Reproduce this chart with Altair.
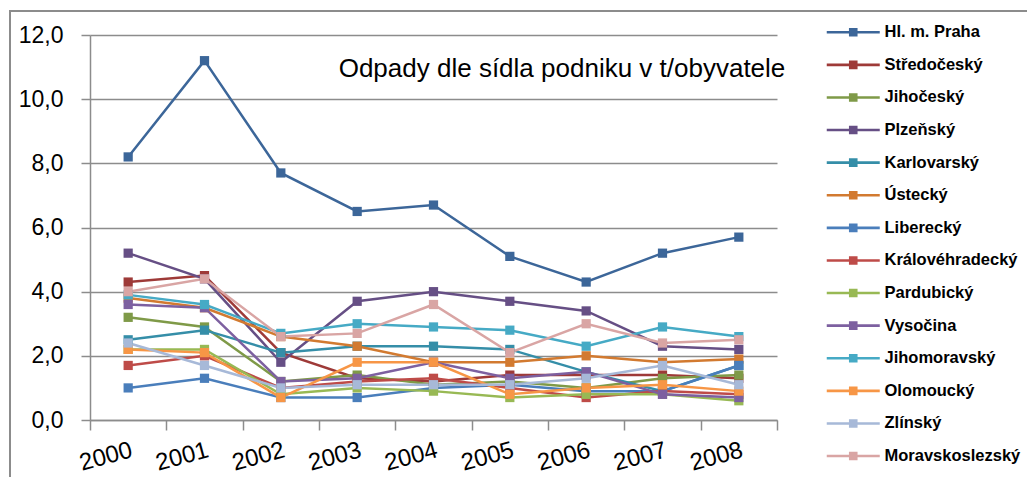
import altair as alt
import pandas as pd

years = ["2000", "2001", "2002", "2003", "2004", "2005", "2006", "2007", "2008"]

regions = ["Hl. m. Praha", "Středočeský", "Jihočeský", "Plzeňský", "Karlovarský",
           "Ústecký", "Liberecký", "Královéhradecký", "Pardubický", "Vysočina",
           "Jihomoravský", "Olomoucký", "Zlínský", "Moravskoslezský"]

praha = [8.2, 11.2, 7.7, 6.5, 6.7, 5.1, 4.3, 5.2, 5.7]
stredocesky = [4.3, 4.5, 2.1, 1.3, 1.2, 1.4, 1.4, 1.4, 1.3]
jihocesky = [3.2, 2.9, 1.2, 1.4, 1.1, 1.2, 1.0, 1.3, 1.4]
plzensky = [5.2, 4.4, 1.8, 3.7, 4.0, 3.7, 3.4, 2.3, 2.2]
karlovarsky = [2.5, 2.8, 2.1, 2.3, 2.3, 2.2, 1.5, 0.9, 1.7]
ustecky = [3.8, 3.5, 2.6, 2.3, 1.8, 1.8, 2.0, 1.8, 1.9]
liberecky = [1.0, 1.3, 0.7, 0.7, 1.0, 1.1, 0.9, 0.9, 1.7]
kralovehradecky = [1.7, 2.0, 1.0, 1.2, 1.3, 1.0, 0.7, 0.9, 0.8]
pardubicky = [2.2, 2.2, 0.8, 1.0, 0.9, 0.7, 0.8, 0.8, 0.6]
vysocina = [3.6, 3.5, 1.2, 1.3, 1.8, 1.3, 1.5, 0.8, 0.7]
jihomoravsky = [3.9, 3.6, 2.7, 3.0, 2.9, 2.8, 2.3, 2.9, 2.6]
olomoucky = [2.2, 2.1, 0.7, 1.8, 1.8, 0.8, 1.0, 1.1, 0.9]
zlinsky = [2.4, 1.7, 1.0, 1.1, 1.1, 1.1, 1.3, 1.7, 1.1]
moravskoslezsky = [4.0, 4.4, 2.6, 2.7, 3.6, 2.1, 3.0, 2.4, 2.5]

series = [praha, stredocesky, jihocesky, plzensky, karlovarsky, ustecky, liberecky,
          kralovehradecky, pardubicky, vysocina, jihomoravsky, olomoucky, zlinsky,
          moravskoslezsky]

colors = ["#3C6699", "#9E3A38", "#7F9A48", "#664F85", "#358EA8", "#D27A30", "#4A7EBB",
          "#BE4B48", "#98B954", "#7D60A0", "#46AAC5", "#F79646", "#A7B9D8", "#D9A5A4"]

chart_title = "Odpady dle sídla podniku v t/obyvatele"

rows = []
for name, vals in zip(regions, series):
    for y, v in zip(years, vals):
        rows.append({"rok": y, "kraj": name, "hodnota": v})
df = pd.DataFrame(rows)

FONT = "Liberation Sans"
GREY = "#8c8c8c"

x_enc = alt.X("rok:O", scale=alt.Scale(type="band", paddingInner=0, paddingOuter=0),
              axis=alt.Axis(title=None, labelAngle=345, labelAlign="right", labelBaseline="top",
                            labelPadding=8, labelFontSize=24, labelFont=FONT, labelColor="black",
                            tickBand="extent", tickSize=10, tickColor=GREY, tickWidth=1.5,
                            domainColor=GREY, domainWidth=1.5, grid=False))
y_enc = alt.Y("hodnota:Q", scale=alt.Scale(domain=[0, 12], nice=False),
              axis=alt.Axis(title=None, values=[0, 2, 4, 6, 8, 10, 12],
                            labelExpr="replace(format(datum.value, '.1f'), '.', ',')",
                            labelFontSize=23, labelFont=FONT, labelColor="black", labelPadding=18,
                            tickSize=9, tickColor=GREY, tickWidth=1.5, domainColor=GREY,
                            domainWidth=1.5, gridColor=GREY, gridWidth=1.5))

color_scale = alt.Scale(domain=regions, range=colors)

legend = alt.Legend(title=None, orient="none", legendX=755, legendY=-11,
                    symbolType="M-5.3,-0.26H5.3V0.26H-5.3Z M-0.86,-0.86H0.86V0.86H-0.86Z",
                    symbolSize=100, symbolStrokeWidth=0, symbolOpacity=1,
                    labelFontSize=16.5, labelFontWeight="bold", labelFont=FONT, labelColor="black",
                    labelOffset=23, rowPadding=15.6, padding=0, labelLimit=400)

base = alt.Chart(df)
lines = base.mark_line(strokeWidth=2.5).encode(
    x=x_enc, y=y_enc,
    color=alt.Color("kraj:N", scale=color_scale, sort=regions, legend=None),
)
points = base.mark_square(size=85, opacity=1, filled=True).encode(
    x=x_enc, y=y_enc,
    color=alt.Color("kraj:N", scale=color_scale, sort=regions, legend=legend),
)

title_text = alt.Chart(pd.DataFrame({"t": [chart_title]})).mark_text(
    font=FONT, fontSize=26, color="black", align="center", baseline="middle"
).encode(x=alt.value(472), y=alt.value(34), text="t:N")

frame = pd.DataFrame({"a": [0]})
border_left = alt.Chart(frame).mark_rule(stroke=GREY, strokeWidth=2).encode(
    x=alt.value(-80), y=alt.value(-24), y2=alt.value(900))
border_top = alt.Chart(frame).mark_rule(stroke=GREY, strokeWidth=2).encode(
    x=alt.value(-81), x2=alt.value(1300), y=alt.value(-24))

chart = alt.layer(border_left, border_top, lines, points, title_text).properties(
    width=687, height=385,
    autosize=alt.AutoSizeParams(type="none"),
    padding={"left": 82, "top": 27, "right": 250, "bottom": 57},
).resolve_legend(color="independent").configure_view(strokeWidth=0)

chart.save("out.html", embed_options={"renderer": "svg", "actions": False})
